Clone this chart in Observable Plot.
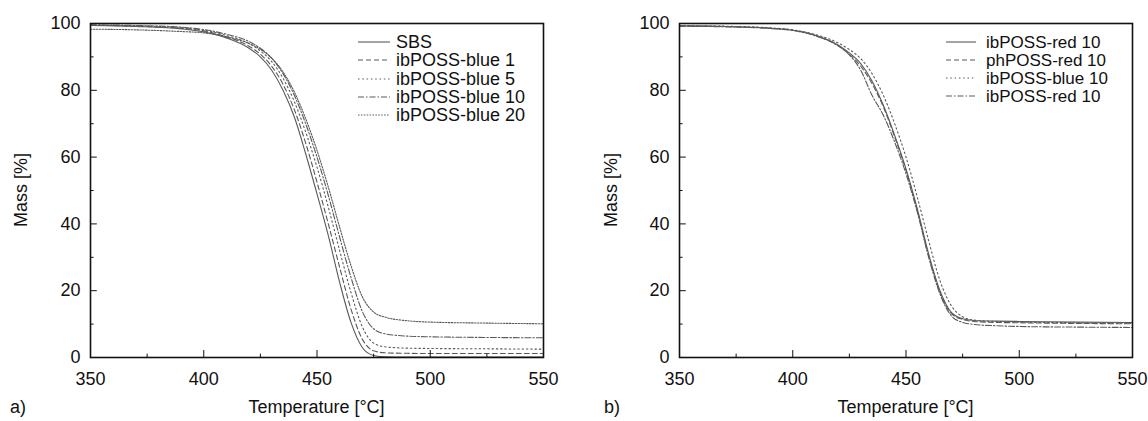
<!DOCTYPE html>
<html><head><meta charset="utf-8">
<script src="https://cdn.jsdelivr.net/npm/d3@7"></script>
<script src="https://cdn.jsdelivr.net/npm/@observablehq/plot@0.6"></script>
<style>
body{margin:0;background:#fff;font-family:"Liberation Sans",Arial,sans-serif;}
#wrap{position:relative;width:1148px;height:421px;overflow:hidden;background:#fff;}
.panel{position:absolute;top:0;}
.lbl{position:absolute;font-size:18px;color:#111;white-space:nowrap;line-height:1;}
.legend{position:absolute;color:#111;background:#fff;}
.legend .row{display:flex;align-items:center;white-space:nowrap;}
.legend .row span{line-height:1;}
.legend svg{display:block;}
</style></head><body><div id="wrap"></div>
<script>
// ---- data ----
const temps = [350,370,390,400,410,420,425,430,435,440,445,450,455,460,465,470,475,480,490,500,525,550];

const xMajor = [350,400,450,500,550];
const xMinor = [375,425,475,525];
const yMajor = [0,20,40,60,80,100];
const yMinor = [10,30,50,70,90];

// panel a)
const namesA = ["SBS","ibPOSS-blue 1","ibPOSS-blue 5","ibPOSS-blue 10","ibPOSS-blue 20"];
const sbs    = [99.4,99.1,98.4,97.5,95.7,92.6,90.0,86.0,80.0,72.0,61.0,49.0,36.5,22.5,10.5,3.0,0.6,0.2,0.1,0.1,0.1,0.1];
const blue1  = [99.5,99.2,98.6,97.8,96.0,93.2,90.8,87.2,81.8,74.2,64.2,52.5,40.0,27.0,14.5,5.5,2.0,1.4,1.25,1.2,1.2,1.2];
const blue5  = [99.5,99.3,98.8,98.0,96.4,94.0,91.8,88.6,83.6,76.6,67.5,57.0,45.0,32.0,19.5,9.2,4.3,3.2,2.8,2.7,2.6,2.5];
const blue10 = [99.6,99.4,98.9,98.2,96.8,94.6,92.6,89.6,85.0,78.5,70.0,60.0,48.5,36.0,24.0,13.8,8.6,7.1,6.4,6.2,6.0,5.9];
const blue20 = [98.3,98.1,97.6,97.2,96.0,94.0,92.3,89.6,85.5,79.5,71.5,62.0,51.0,39.0,27.5,18.2,13.6,12.1,11.0,10.6,10.3,10.1];

// panel b)
const namesB = ["ibPOSS-red 10","phPOSS-red 10","ibPOSS-blue 10","ibPOSS-red 10"];
const red10a  = [99.3,99.1,98.6,98.0,96.5,93.6,91.2,88.0,82.8,75.5,66.5,56.5,44.5,31.0,20.0,13.5,11.6,11.1,10.9,10.8,10.6,10.5];
const phred10 = [99.3,99.1,98.6,98.0,96.4,93.4,90.8,87.2,82.0,75.0,66.0,56.0,44.0,30.5,19.5,13.2,11.4,10.8,10.5,10.4,10.2,10.1];
const bBlue10 = [99.4,99.2,98.7,98.1,96.7,94.2,92.2,89.5,85.0,78.5,70.0,60.0,48.0,35.0,23.0,15.5,12.2,11.2,10.8,10.6,10.4,10.2];
const red10b  = [99.2,99.0,98.5,97.9,96.3,93.3,90.6,86.0,78.5,72.5,64.5,55.0,43.5,30.0,19.0,12.5,10.5,9.9,9.5,9.3,9.1,9.0];

// ---- styles ----
const dashesA = [null,"5,3","1.5,2.8","6,2,1.5,2","1.5,1.4"];
const dashesB = [null,"5,3","1.5,2.8","6,2,1.5,2"];
const lineColor = "#5a5a5a";

function makePanel(valuesList, dashes, width, marginRight) {
  const marks = [];
  valuesList.forEach((vals, k) => {
    marks.push(Plot.line(temps, {
      x: d => d, y: (d, i) => vals[i],
      stroke: lineColor, strokeWidth: 1.1,
      strokeDasharray: dashes[k] || undefined,
      curve: "monotone-x"
    }));
  });
  marks.push(
    Plot.ruleX(xMajor, {x: d => d, y1: 0, y2: 2.1, stroke: "#111", strokeWidth: 1}),
    Plot.ruleX(xMinor, {x: d => d, y1: 0, y2: 1.0, stroke: "#111", strokeWidth: 1}),
    Plot.ruleY(yMajor, {y: d => d, x1: 350, x2: 353, stroke: "#111", strokeWidth: 1}),
    Plot.ruleY(yMinor, {y: d => d, x1: 350, x2: 351.6, stroke: "#111", strokeWidth: 1}),
    Plot.axisX({ticks: xMajor, tickSize: 0, tickPadding: 15, tickFormat: d => String(d), label: null, fontSize: 18, fill: "#111"}),
    Plot.axisY({ticks: yMajor, tickSize: 0, tickPadding: 10, tickFormat: d => String(d), label: null, fontSize: 18, fill: "#111"}),
    Plot.frame({stroke: "#111", strokeWidth: 1.6})
  );
  return Plot.plot({
    width, height: 421,
    marginLeft: 90, marginRight, marginTop: 23, marginBottom: 64,
    x: {domain: [350, 550]},
    y: {domain: [0, 100]},
    style: {fontFamily: '"Liberation Sans", Arial, sans-serif', fontSize: "18px", background: "transparent", overflow: "visible"},
    marks
  });
}

const wrap = document.getElementById("wrap");

function place(el, left) {
  el.classList.add("panel");
  el.style.left = left + "px";
  wrap.appendChild(el);
}

place(makePanel([sbs, blue1, blue5, blue10, blue20], dashesA, 574, 31), 0);
place(makePanel([red10a, phred10, bBlue10, red10b], dashesB, 559, 16), 589);

function legend(names, dashes, left, top, rowH, swW, gap, fs) {
  const div = document.createElement("div");
  div.className = "legend";
  div.style.left = left + "px";
  div.style.top = top + "px";
  div.style.fontSize = fs + "px";
  names.forEach((n, k) => {
    const row = document.createElement("div");
    row.className = "row";
    row.style.height = rowH + "px";
    const svg = `<svg width="${swW}" height="10"><line x1="0" y1="5" x2="${swW}" y2="5" stroke="${lineColor}" stroke-width="1.1" ${dashes[k] ? `stroke-dasharray="${dashes[k]}"` : ""}/></svg>`;
    row.innerHTML = svg + `<span style="margin-left:${gap}px">${n}</span>`;
    div.appendChild(row);
  });
  wrap.appendChild(div);
}
legend(namesA, dashesA, 358, 33, 18.3, 32, 6, 18);
legend(namesB, dashesB, 946, 33, 18.0, 30, 10, 17);

function label(text, x, y, rotate, anchor) {
  const d = document.createElement("div");
  d.className = "lbl";
  d.textContent = text;
  d.style.left = x + "px";
  d.style.top = y + "px";
  const tx = anchor === "start" ? "0" : "-50%";
  d.style.transform = `translate(${tx},-50%)` + (rotate ? " rotate(-90deg)" : "");
  wrap.appendChild(d);
}
label("Mass [%]", 21, 190, true);
label("Mass [%]", 611, 190, true);
label("Temperature [°C]", 316.5, 407);
label("Temperature [°C]", 905.5, 407);
label("a)", 10, 407, false, "start");
label("b)", 604, 407, false, "start");
</script>
</body></html>
